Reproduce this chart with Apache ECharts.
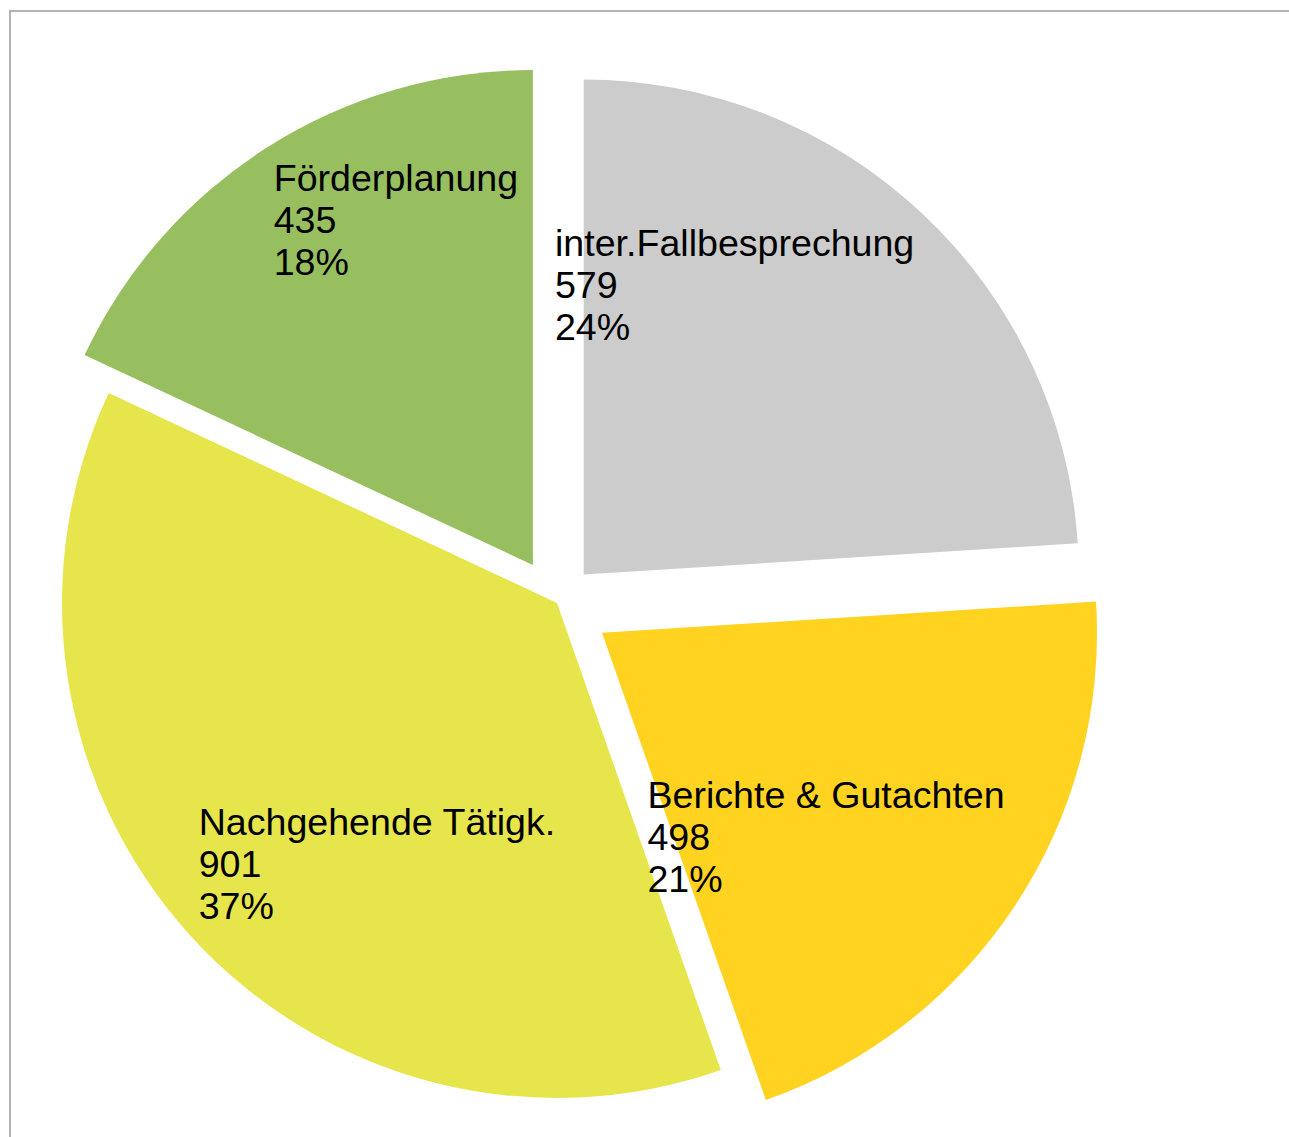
<!DOCTYPE html>
<html>
<head>
    <meta charset="utf-8">
    <title>Pie</title>
    <script src="https://cdn.jsdelivr.net/npm/echarts@6/dist/echarts.min.js"></script>
    <style>
        html, body { margin: 0; padding: 0; background: #fff; }
        #main { width: 1289px; height: 1137px; }
    </style>
</head>
<body>
    <div id="main"></div>
<script>
var names = ['inter.Fallbesprechung', 'Berichte & Gutachten', 'Nachgehende Tätigk.', 'Förderplanung'];
var values = [579, 498, 901, 435];
var colors = ['#cccccc', '#ffd320', '#e6e64c', '#97bf60'];

// how far each slice is pulled out of the pie (px)
var explode = [39, 54, 0, 45];
var CX = 557, CY = 603, RADIUS = 495;
var LABEL_R = 483;

var total = values.reduce(function (a, b) { return a + b; }, 0);

// angle of the middle of slice i, clockwise from 12 o'clock
function midAngle(i) {
    var before = 0;
    for (var k = 0; k < i; k++) before += values[k];
    return (before + values[i] / 2) / total * Math.PI * 2;
}

var myChart = echarts.init(document.getElementById('main'), null, { renderer: 'svg' });

var series = names.map(function (n, i) {
    var a = midAngle(i);
    var dx = Math.sin(a), dy = -Math.cos(a);
    var cx = CX + explode[i] * dx, cy = CY + explode[i] * dy;
    return {
        type: 'pie',
        center: [cx, cy],
        radius: RADIUS,
        startAngle: 90,
        clockwise: true,
        percentPrecision: 0,
        silent: true,
        emphasis: { disabled: true },
        label: {
            position: 'inside',
            formatter: '{b}\n{c}\n{d}%',
            fontFamily: 'Liberation Sans',
            fontSize: 37.6,
            lineHeight: 42,
            color: '#000'
        },
        labelLine: { show: false },
        labelLayout: function (p) {
            // outer corner of the text block sits on the slice's middle ray
            var ax = cx + LABEL_R * dx, ay = cy + LABEL_R * dy;
            return {
                x: dx > 0 ? ax - p.labelRect.width : ax,
                y: dy > 0 ? ay - p.labelRect.height : ay,
                align: 'left',
                verticalAlign: 'top'
            };
        },
        data: names.map(function (m, j) {
            return {
                name: m,
                value: values[j],
                itemStyle: { color: j === i ? colors[j] : 'rgba(0,0,0,0)', borderWidth: 0 },
                label: { show: j === i }
            };
        })
    };
});

var option = {
    animation: false,
    backgroundColor: '#fff',
    graphic: [{
        type: 'rect',
        shape: { x: 10, y: 11, width: 2000, height: 2000 },
        style: { fill: null, stroke: '#b3b3b3', lineWidth: 2 },
        silent: true
    }],
    series: series
};

myChart.setOption(option);
</script>
</body>
</html>
